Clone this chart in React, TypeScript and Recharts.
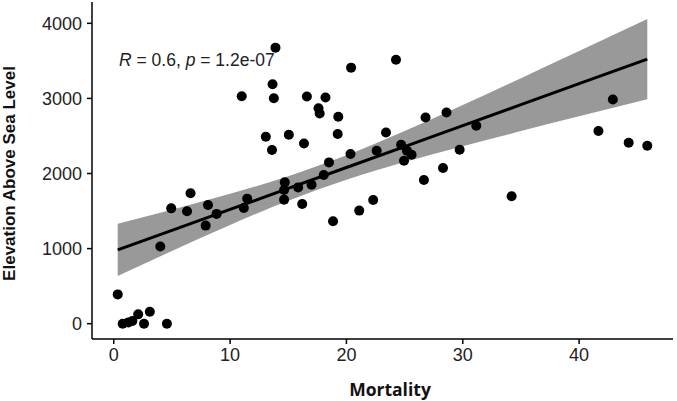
import React from 'react';
import { ComposedChart, Area, Line, Scatter, XAxis, YAxis } from 'recharts';

// observed points
const mortality = [
  0.34, 0.77, 1.26, 1.6, 2.1, 2.6, 3.1, 4.57, 4.0, 4.94, 6.3, 6.6, 7.9, 8.1, 8.84,
  11.18, 11.47, 11.0, 13.07, 13.6, 13.65, 13.76, 13.9, 14.64, 14.64, 14.7, 15.05,
  15.85, 16.2, 16.35, 16.6, 17.0, 17.6, 17.7, 18.05, 18.2, 18.5, 18.85, 19.25, 19.3,
  20.35, 20.4, 21.1, 22.3, 22.6, 23.4, 24.26, 24.7, 24.95, 25.2, 25.6, 26.66, 26.8,
  28.3, 28.6, 29.73, 31.16, 34.2, 41.66, 42.9, 44.26, 45.86,
];
const elevation = [
  390, 0, 17, 35, 124, 0, 159, 0, 1027, 1536, 1497, 1736, 1306, 1581, 1462,
  1541, 1665, 3030, 2489, 2312, 3189, 3003, 3676, 1652, 1781, 1882, 2516,
  1815, 1595, 2400, 3025, 1851, 2870, 2799, 1980, 3012, 2148, 1364, 2525, 2755,
  2259, 3410, 1506, 1648, 2303, 2546, 3516, 2383, 2170, 2303, 2250, 1914, 2746,
  2073, 2812, 2316, 2635, 1696, 2565, 2985, 2409, 2369,
];

// fitted line and confidence band
const bandX = [0.34, 5, 10, 15, 20, 25, 30, 35, 40, 45.86];
const fitY = [983, 1243, 1522, 1801, 2080, 2359, 2638, 2917, 3196, 3523];
const bandLow = [635, 968, 1315, 1638, 1918, 2153, 2364, 2565, 2761, 2988];
const bandHigh = [1331, 1518, 1729, 1964, 2242, 2565, 2912, 3269, 3631, 4058];

const xTicks = [0, 10, 20, 30, 40];
const yTicks = [0, 1000, 2000, 3000, 4000];

const bandData = bandX.map((x, i) => ({ x, band: [bandLow[i], bandHigh[i]], fit: fitY[i] }));
const points = mortality.map((x, i) => ({ x, y: elevation[i] }));

const tickStyle = { fill: '#222', fontSize: 18, fontFamily: 'Liberation Sans, Arial, sans-serif' };

const Dot = (props: any) => <circle cx={props.cx} cy={props.cy} r={5} fill="#000" />;

export default function App() {
  return (
    <div style={{ position: 'absolute', left: 0, top: 0, width: 677, height: 401, background: '#fff' }}>
      <ComposedChart width={677} height={401} data={bandData} margin={{ top: 2, right: 4, left: 0, bottom: 0 }}>
        <XAxis
          dataKey="x"
          type="number"
          domain={[-1.87, 48.07]}
          ticks={xTicks}
          allowDataOverflow
          height={62}
          tick={tickStyle}
          tickSize={5}
          tickMargin={4}
          axisLine={{ stroke: '#000', strokeWidth: 1.5 }}
          tickLine={{ stroke: '#000', strokeWidth: 1.5 }}
        />
        <YAxis
          type="number"
          domain={[-204, 4284]}
          ticks={yTicks}
          allowDataOverflow
          width={92}
          tick={tickStyle}
          tickSize={5}
          tickMargin={5}
          axisLine={{ stroke: '#000', strokeWidth: 1.5 }}
          tickLine={{ stroke: '#000', strokeWidth: 1.5 }}
        />
        <Area
          dataKey="band"
          type="monotone"
          stroke="none"
          fill="#999999"
          fillOpacity={1}
          isAnimationActive={false}
        />
        <Line
          dataKey="fit"
          type="linear"
          stroke="#000"
          strokeWidth={3}
          dot={false}
          isAnimationActive={false}
        />
        <Scatter data={points} dataKey="y" shape={Dot} isAnimationActive={false} />
      </ComposedChart>
      <svg
        width={677}
        height={401}
        style={{ position: 'absolute', left: 0, top: 0, pointerEvents: 'none' }}
      >
        <text x={119} y={66} fontSize={17.5} fill="#222" fontFamily="Liberation Sans, Arial, sans-serif">
          <tspan fontStyle="italic">R</tspan> = 0.6, <tspan fontStyle="italic">p</tspan> = 1.2e-07
        </text>
        <text
          x={15}
          y={173.5}
          transform="rotate(-90 15 173.5)"
          textAnchor="middle"
          fontSize={17}
          fontWeight="bold"
          fill="#111"
          fontFamily="Liberation Sans, Arial, sans-serif"
        >
          Elevation Above Sea Level
        </text>
        <text
          x={390}
          y={396}
          textAnchor="middle"
          fontSize={17.5}
          fontWeight="bold"
          fill="#111"
          fontFamily="Open Sans, sans-serif"
        >
          Mortality
        </text>
      </svg>
    </div>
  );
}
